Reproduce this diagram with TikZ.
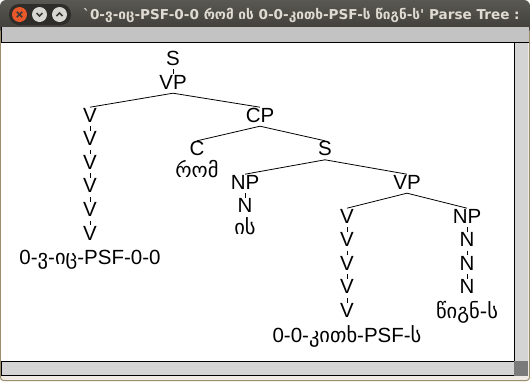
\documentclass[tikz,border=0pt]{standalone}
\usepackage{fontspec}
\setmainfont{Liberation Sans}
\newfontfamily\geo{DejaVu Sans}
\newfontfamily\titlefont[Ligatures=TeXOff]{DejaVu Sans}

\definecolor{barTop}{HTML}{5A5852}
\definecolor{barBottom}{HTML}{3C3B37}
\definecolor{pillDark}{HTML}{2E2D2A}
\definecolor{titleText}{HTML}{DFDBD2}
\definecolor{closeOrange}{HTML}{E8582B}
\definecolor{buttonGray}{HTML}{D9D7D1}
\definecolor{menuGray}{HTML}{C3C3C3}
\definecolor{scrollGray}{HTML}{D4D4D4}
\definecolor{cornerGray}{HTML}{7A7A7A}
\definecolor{frameTan}{HTML}{9A8E6E}
\definecolor{frameBg}{HTML}{EFEBE4}

\begin{document}
\begin{tikzpicture}[x=1pt, y=-1pt,
  lbl/.style={font=\fontsize{20.5}{21}\selectfont, inner sep=0pt, text height=14.6pt, text depth=4pt, anchor=base},
  branch/.style={line width=.8pt}]
\useasboundingbox (0,0) rectangle (530,381);
% window frame and title bar
\fill[frameBg, rounded corners=4pt] (0,20) rectangle (530,381);
\draw[frameTan, line width=1pt, rounded corners=3pt] (0.5,20) -- (0.5,380.5) -- (529.5,380.5) -- (529.5,20);
\shade[top color=barTop, bottom color=barBottom, rounded corners=6pt] (0,0) rectangle (530,34);
\fill[menuGray] (1,27) rectangle (529,42);
\draw (1.5,27) -- (1.5,42);
% canvas with scrollbars
\fill[white] (1,42) rectangle (514,361);
\draw (1,42.5) -- (529,42.5);
\fill[scrollGray] (514,43) rectangle (528,361);
\draw (514.5,43) -- (514.5,361);
\filldraw[fill=scrollGray, draw=black] (1.5,361.5) rectangle (514,375.5);
\fill[cornerGray] (514,361) rectangle (528,376);
% window buttons
\fill[pillDark, rounded corners=10pt] (9,4) rectangle (71,25);
\fill[closeOrange] (19.5,14.5) circle (7.5);
\draw[barBottom, line width=1.6pt] (16.8,11.8) -- (22.2,17.2) (16.8,17.2) -- (22.2,11.8);
\fill[buttonGray] (39.5,14.5) circle (7.5);
\draw[barBottom, line width=1.6pt] (36.5,13) -- (39.5,16) -- (42.5,13);
\fill[buttonGray] (59.5,14.5) circle (7.5);
\draw[barBottom, line width=1.6pt] (56.5,16) -- (59.5,13) -- (62.5,16);
\node[anchor=base west, inner sep=0pt, text=titleText, font=\titlefont\bfseries\fontsize{13.6}{15}\selectfont] (windowTitle) at (83,19.5) {`0-ვ-იც-PSF-0-0 რომ ის 0-0-კითხ-PSF-ს წიგნ-ს' Parse Tree :};
% the tree (leaves sit right under their tags, no line to them)
\node[lbl] (sTop) at (173,65) {S};
\node[lbl] (vpTop) at (173,89) {VP};
\node[lbl] (vOne) at (90,122) {V};
\node[lbl] (vTwo) at (90,145.6) {V};
\node[lbl] (vThree) at (90,169.2) {V};
\node[lbl] (vFour) at (90,192.8) {V};
\node[lbl] (vFive) at (90,216.4) {V};
\node[lbl] (vSix) at (90,240) {V};
\node[lbl] (knowWord) at (90,264) {0-{\geo ვ}-{\geo იც}-PSF-0-0};
\node[lbl] (cp) at (260,122) {CP};
\node[lbl] (c) at (197,155.6) {C};
\node[lbl] (thatWord) at (197,177) {\geo რომ};
\node[lbl] (sLow) at (325,155.6) {S};
\node[lbl] (npSubj) at (245,189) {NP};
\node[lbl] (nSubj) at (245,212.6) {N};
\node[lbl] (heWord) at (245,234.5) {\geo ის};
\node[lbl] (vpLow) at (407,189) {VP};
\node[lbl] (vReadOne) at (347,223) {V};
\node[lbl] (vReadTwo) at (347,246.6) {V};
\node[lbl] (vReadThree) at (347,270.2) {V};
\node[lbl] (vReadFour) at (347,293.8) {V};
\node[lbl] (vReadFive) at (347,317.4) {V};
\node[lbl] (readWord) at (347,342) {0-0-{\geo კითხ}-PSF-{\geo ს}};
\node[lbl] (npObj) at (467,223) {NP};
\node[lbl] (nObjOne) at (467,246.6) {N};
\node[lbl] (nObjTwo) at (467,270.2) {N};
\node[lbl] (nObjThree) at (467,293.8) {N};
\node[lbl] (bookWord) at (467,318) {\geo წიგნ-ს};
\draw[branch] (sTop.south) -- (vpTop.north);
\draw[branch] (vpTop.south) -- (vOne.north);
\draw[branch] (vpTop.south) -- (cp.north);
\draw[branch] (vOne.south) -- (vTwo.north);
\draw[branch] (vTwo.south) -- (vThree.north);
\draw[branch] (vThree.south) -- (vFour.north);
\draw[branch] (vFour.south) -- (vFive.north);
\draw[branch] (vFive.south) -- (vSix.north);
\draw[branch] (cp.south) -- (c.north);
\draw[branch] (cp.south) -- (sLow.north);
\draw[branch] (sLow.south) -- (npSubj.north);
\draw[branch] (sLow.south) -- (vpLow.north);
\draw[branch] (npSubj.south) -- (nSubj.north);
\draw[branch] (vpLow.south) -- (vReadOne.north);
\draw[branch] (vpLow.south) -- (npObj.north);
\draw[branch] (vReadOne.south) -- (vReadTwo.north);
\draw[branch] (vReadTwo.south) -- (vReadThree.north);
\draw[branch] (vReadThree.south) -- (vReadFour.north);
\draw[branch] (vReadFour.south) -- (vReadFive.north);
\draw[branch] (npObj.south) -- (nObjOne.north);
\draw[branch] (nObjOne.south) -- (nObjTwo.north);
\draw[branch] (nObjTwo.south) -- (nObjThree.north);
\end{tikzpicture}
\end{document}
